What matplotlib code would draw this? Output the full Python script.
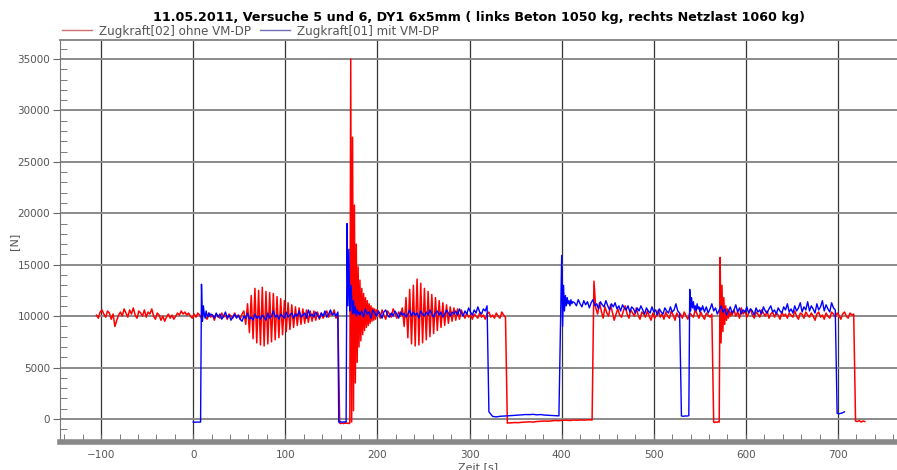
#!/usr/bin/env python3
import numpy as np
import matplotlib.pyplot as plt
from matplotlib.lines import Line2D
from matplotlib.ticker import MultipleLocator

# Data preparation (in N; each segment: start time, step, values)
red_a = (-105, 2, [10100, 9800, 10400, 10600, 10200, 9900, 10500, 10300, 9700, 10200,
                   9000, 9600, 10100, 10400, 10000, 10700, 10300, 9900, 10600, 10200,
                   10800, 10100, 9800, 10500, 10300, 10000, 10600, 9900, 10400, 10200,
                   10700, 10000, 9700, 10300, 10100, 9600, 10000, 9500, 9900, 10200,
                   9800, 10100, 9700, 10000, 10300, 10100, 10500, 10200, 10400, 10100,
                   10300, 10000, 9800, 10200, 9900, 10300, 10100, 9800, 10200, 10000,
                   9700, 10300, 9900, 10100, 9600, 10200, 10000, 9800, 10300, 9900,
                   10100, 9700, 10200, 10000, 9800, 10300, 9900, 10100, 9700, 10200])
red_b = (55, 2, [10500, 9200, 11200, 8400, 12000, 7800, 12700, 7400, 12500, 7200,
                 12800, 7100, 12400, 7300, 12300, 7500, 12200, 7700, 11900, 7900,
                 11700, 8200, 11500, 8500, 11300, 8700, 11100, 8900, 10900, 9100,
                 10800, 9200, 10700, 9300, 10600, 9400, 10500, 9500, 10500, 9600,
                 10400, 9700])
red_c = (139, 2, [10300, 9800, 10200, 10500, 9900, 10300, 10100, 10600, 9800, 10200])
red_d = (159, 1, [-400, -450, -420, -380, -450, -400, -420, -380, -430, -400, -450, -400])
red_e = (171, 1, [35000, -300, 27400, 800, 20800, 3500, 17000, 5500, 14800, 7000,
                  13500, 7600, 12700, 8200, 12200, 8600, 11800, 8900, 11500, 9100,
                  11200, 9300, 11000, 9500, 10800, 9600, 10700, 9700, 10600])
red_f = (201, 2, [10400, 9800, 10600, 10100, 9700, 10500, 10200, 9900, 10700, 10300,
                  9800, 10400, 10000])
red_g = (227, 2, [10800, 9000, 11800, 7900, 12600, 7300, 13000, 7100, 13600, 7200,
                  13200, 7400, 12700, 7700, 12400, 8000, 12100, 8300, 11800, 8600,
                  11500, 8900, 11300, 9100, 11100, 9300, 10900, 9500, 10800, 9600,
                  10700, 9700, 10600])
red_h = (293, 2, [10200, 9800, 10300, 9900, 10100, 9700, 10200, 10000, 9800, 10300,
                  9900, 10100, 9700, 10200, 10400, 9900, 10100, 9800, 10300, 10000,
                  9800, 10400, 10100, 9900])
red_i = (341, 4, [-400, -380, -350, -360, -320, -300, -280, -300, -250, -230, -200, -220,
                  -180, -150, -170, -130, -120, -150, -100, -120, -90, -110, -80, -100])
red_j = (435, 2, [13400,
                  10800, 10200, 11300, 10500, 9800, 10900, 10300, 10000, 11100, 10400,
                  9600, 10200, 10700, 10100, 9900, 10500, 11000, 10200, 9800, 10600,
                  10300, 10000, 10800, 10100, 9700, 10400, 10200, 9900, 10500, 10000,
                  9600, 10300, 9800, 10100, 10600, 9900, 10200, 9700, 10400, 10000,
                  9800, 10500, 10100, 9600, 10300, 9900, 10200, 9800, 10400, 10000,
                  9700, 10300, 10100, 9900, 10600, 10200, 9800, 10400, 10000, 9700,
                  10300, 10100, 9900, 10200])
red_k = (565, 1, [-300, -350, -300, -320, -300, -280, -300])
red_l = (572, 1, [15700, 7400, 13000, 8500, 11800, 9200, 11000, 9600, 10700, 9800,
                  10500, 10000, 10400, 10100])
red_m = (587, 2, [10600, 10000, 10400, 9800, 10800, 10200, 10500, 9900, 10300, 10700,
                  10100, 9800, 10400, 10200, 9900, 10600, 10300, 10000, 10500, 9800,
                  10200, 10400, 9900, 10300, 10100, 9700, 10400, 10000, 10200, 9800,
                  10300, 10100, 9900, 10500, 10000, 9700, 10300, 10200, 9800, 10400,
                  10100, 9900, 10300, 10000, 9600, 10200, 10400, 9900, 10100, 9700,
                  10300, 10000, 9800, 10400, 10200, 9900, 10300, 10100, 9700, 10200,
                  10400, 10000, 9800, 10300, 10100, 10200])
red_n = (719, 2, [-200, -250, -150, -300, -200, -250])

blue_a = (0, 2, [-300, -320, -300, -310, -300])
blue_b = (9, 1, [13100, 9500, 11000, 10200, 9800, 10500, 10100, 9900, 10300, 10000, 10200])
blue_c = (21, 2, [10100, 9800, 10300, 9900, 10200, 9700, 10000, 10400, 9800, 10100,
                  9600, 9900, 10200, 9800, 10100, 9700, 9500, 10000, 9800, 10300,
                  9700, 9900, 9600, 10200, 9800, 10000, 9700, 10100, 9900, 9600,
                  10300, 9800, 10000, 10500, 9900, 10100, 9700, 10200, 10000, 9800,
                  10400, 9900, 10100, 10300, 9800, 10200, 10000, 10500, 9900, 10100,
                  10300, 9800, 10600, 10000, 10200, 9900, 10400, 10100, 9800, 10300,
                  10000, 10500, 9900, 10200, 10600, 10100, 10300, 10000, 10400])
blue_d = (158, 1, [-300, -320, -280, -300, -310, -290, -300, -280, -300])
blue_e = (167, 1, [19000, 11000, 16500, 10500, 13000, 11800, 10200, 11500, 10300, 10900,
                   10000, 10600, 10200, 10400, 10100])
blue_f = (183, 2, [10500, 9900, 10700, 10200, 10400, 9800, 10600, 10300, 10000, 10500,
                   10200, 9800, 10400, 10600, 10100, 9900, 10300, 10000, 10500, 10200,
                   9800, 10400, 10100, 10300, 9900, 10200, 10600, 10000, 10400, 10100,
                   10300, 9800, 10500, 10200, 10000, 10400, 10100, 10600, 10200, 9900,
                   10300, 10500, 10100, 10400, 9900, 10200, 10600, 10300, 10000, 10400,
                   10200, 10500, 10100, 10700, 10300, 10000, 10500, 10200, 10800, 10400,
                   10100, 10600, 10300, 10900, 10400, 10200, 10700, 10500, 11000])
blue_g = (321, 4, [700, 250, 200, 260, 280, 300, 330, 350, 380, 400,
                   430, 420, 450, 400, 430, 380, 360, 340, 320, 300])
blue_h = (400, 1, [15900, 9000, 13000, 10500, 12000, 11000, 11800, 11200, 11500, 11000,
                   11600, 11200, 11400])
blue_i = (414, 2, [11300, 11000, 11600, 11200, 10900, 11500, 11100, 11400, 10800, 11300,
                   11600, 11000, 11200, 10700, 11400, 11100, 10900, 11500, 11000, 10600,
                   11200, 10900, 11300, 10700, 11000, 10500, 11100, 10800, 10600, 11000,
                   10400, 10900, 10700, 10300, 10800, 10500, 11000, 10600, 10200, 10800,
                   10500, 10300, 10900, 10400, 10600, 10100, 10700, 10400, 10200, 10800,
                   10500, 10300, 10900, 10400, 10600, 11200, 10500, 10300])
blue_j = (530, 2, [300, 250, 300, 280, 320])
blue_k = (539, 1, [12600, 10500, 11800, 10800, 11400, 10600, 11000, 10500, 11200, 10700,
                   10900, 10400, 10800, 10600, 11000])
blue_l = (555, 2, [10400, 10900, 10300, 10700, 11200, 10500, 10800, 10200, 10600, 11000,
                   10400, 10700, 10100, 10500, 10900, 10300, 10600, 11100, 10400, 10800,
                   10200, 10600, 10400, 10900, 10300, 10700, 10500, 10100, 10800, 10400,
                   10600, 10200, 10900, 10500, 10300, 10700, 11000, 10400, 10600, 10200,
                   10800, 10500, 10300, 10900, 10600, 11200, 10400, 10700, 10300, 11000,
                   10500, 10800, 11300, 10400, 10900, 10600, 11400, 10500, 11000, 10700,
                   10300, 11200, 10600, 10900, 11500, 10500, 11100, 10700, 10400, 11300,
                   10800, 10600])
blue_m = (699, 2, [550, 500, 550, 600, 700])


def join(*segments):
    ts, vs = [], []
    for t0, step, vals in segments:
        ts.append(t0 + step * np.arange(len(vals)))
        vs.append(np.array(vals, dtype=float))
    return np.concatenate(ts), np.concatenate(vs)


t_red, f_red = join(red_a, red_b, red_c, red_d, red_e, red_f, red_g, red_h,
                    red_i, red_j, red_k, red_l, red_m, red_n)
t_blue, f_blue = join(blue_a, blue_b, blue_c, blue_d, blue_e, blue_f, blue_g,
                      blue_h, blue_i, blue_j, blue_k, blue_l, blue_m)

# Plotting
fig = plt.figure(figsize=(8.97, 4.70), dpi=100)
ax = fig.add_axes([60 / 897, 28 / 470, 837 / 897, 402 / 470])

ax.plot(t_red, f_red, color='#ff0000', lw=1.1)
ax.plot(t_blue, f_blue, color='#0000ff', lw=1.0)

ax.set_xlim(-144.6, 764)
ax.set_ylim(-2240, 36850)

ax.xaxis.set_major_locator(MultipleLocator(100))
ax.xaxis.set_minor_locator(MultipleLocator(20))
ax.yaxis.set_major_locator(MultipleLocator(5000))
ax.yaxis.set_minor_locator(MultipleLocator(1000))

ax.grid(axis='x', which='major', color='#333333', lw=0.9)
ax.grid(axis='y', which='major', color='#8a8a8a', lw=1.4)

ax.spines['right'].set_visible(False)
ax.spines['top'].set_color('#8a8a8a')
ax.spines['top'].set_linewidth(1.4)
ax.spines['left'].set_color('#777777')
ax.spines['bottom'].set_color('#888888')
ax.spines['bottom'].set_linewidth(4)

ax.tick_params(axis='x', which='both', direction='in', length=6, color='#666666',
               labelsize=7.5, labelcolor='#555555', pad=6)
ax.tick_params(axis='y', which='major', direction='out', length=5, color='#666666',
               labelsize=7.5, labelcolor='#555555', pad=2)
ax.tick_params(axis='y', which='minor', direction='in', length=5, color='#666666')

ax.set_xlabel('Zeit [s]', fontsize=8, color='#555555', labelpad=1)
ax.set_ylabel('[N]', fontsize=8, color='#555555', labelpad=-1)
ax.set_title('11.05.2011, Versuche 5 und 6, DY1 6x5mm ( links Beton 1050 kg, rechts Netzlast 1060 kg)',
             fontsize=9.2, fontweight='bold', pad=14)

handles = [Line2D([], [], color='#d07070', lw=1),
           Line2D([], [], color='#7070b8', lw=1)]
ax.legend(handles, ['Zugkraft[02] ohne VM-DP', 'Zugkraft[01] mit VM-DP'],
          loc='lower left', bbox_to_anchor=(0.0, 1.0), ncol=2, frameon=False,
          fontsize=8.6, handlelength=2.5, handletextpad=0.6, columnspacing=0.7,
          borderaxespad=0.1, borderpad=0.1, labelcolor='#555555')

plt.savefig('out.png', dpi=100)
